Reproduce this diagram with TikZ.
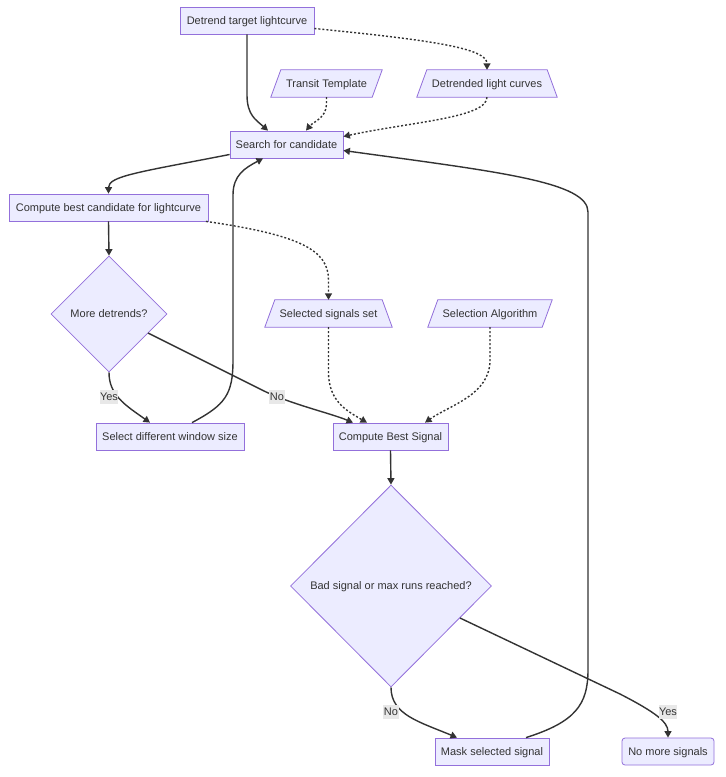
\documentclass[tikz,border=0pt]{standalone}
\usepackage{fontspec}
\setmainfont{Liberation Sans}
\usetikzlibrary{shapes.geometric,arrows.meta,backgrounds}
\definecolor{nfill}{HTML}{ECECFF}
\definecolor{nline}{HTML}{9370DB}
\definecolor{ntext}{HTML}{333333}
\definecolor{eline}{HTML}{333333}
\definecolor{lblbg}{HTML}{E8E8E8}
\tikzset{
  base/.style={font=\fontsize{11pt}{13pt}\selectfont, text=ntext, inner sep=0pt, minimum height=27pt, text height=9.9pt, text depth=2.3pt},
  box/.style={base, rectangle, draw=nline, fill=nfill, line width=0.8pt},
  rbox/.style={box, rounded corners=3pt},
  plain/.style={base, rectangle},
  dia/.style={font=\fontsize{11pt}{13pt}\selectfont, text=ntext, text height=9.9pt, text depth=2.3pt, diamond, aspect=1, draw=nline, fill=nfill, line width=0.8pt, inner sep=0pt},
  shapeline/.style={draw=nline, fill=nfill, line width=0.8pt},
  edge/.style={draw=eline, line width=1.4pt, -{Triangle[length=6.5pt,width=7pt]}},
  dotedge/.style={edge, dash pattern=on 2pt off 2pt},
  lbl/.style={font=\fontsize{11pt}{13pt}\selectfont, text=ntext, text height=9.9pt, text depth=2.3pt, fill=lblbg, inner xsep=0.5pt, inner ysep=0.5pt}
}
\begin{document}
\begin{tikzpicture}[x=1pt,y=-1pt]
\useasboundingbox (0,0) rectangle (726,777);
% nodes
\node[box, minimum width=134pt] (det) at (247,20.5) {Detrend target lightcurve};
\node[plain, minimum width=101pt] (tt) at (326.5,83.5) {Transit Template};
\node[plain, minimum width=130pt] (dlc) at (487,83.5) {Detrended light curves};
\node[box, minimum width=113pt] (search) at (286.5,144.5) {Search for candidate};
\node[box, minimum width=199pt] (cbc) at (108.5,207.5) {Compute best candidate for lightcurve};
\node[dia, minimum width=116pt, minimum height=116pt] (md) at (109,314) {More detrends?};
\node[plain, minimum width=117pt] (sss) at (328.5,313.5) {Selected signals set};
\node[plain, minimum width=114pt] (sa) at (490,313.5) {Selection Algorithm};
\node[box, minimum width=148pt] (sdw) at (170,436.5) {Select different window size};
\node[box, minimum width=115pt] (cbs) at (390.5,436.5) {Compute Best Signal};
\node[dia, minimum width=201pt, minimum height=202pt] (bad) at (391,586) {Bad signal or max runs reached?};
\node[box, minimum width=114pt] (msk) at (492,751.5) {Mask selected signal};
\node[rbox, minimum width=92pt] (nms) at (668,751.5) {No more signals};
% white page and slanted shapes behind their texts
\begin{scope}[on background layer]
\fill[white] (0,0) rectangle (726,777);
\path[shapeline] ([xshift=-5pt]tt.south west) -- ([xshift=-5pt]tt.south east) -- ([xshift=5pt]tt.north east) -- ([xshift=5pt]tt.north west) -- cycle;
\path[shapeline] ([xshift=-5pt]sa.south west) -- ([xshift=-5pt]sa.south east) -- ([xshift=5pt]sa.north east) -- ([xshift=5pt]sa.north west) -- cycle;
\path[shapeline] ([xshift=-5pt]dlc.south west) -- ([xshift=5pt]dlc.south east) -- ([xshift=-5pt]dlc.north east) -- ([xshift=5pt]dlc.north west) -- cycle;
\path[shapeline] ([xshift=-5pt]sss.south west) -- ([xshift=5pt]sss.south east) -- ([xshift=-5pt]sss.north east) -- ([xshift=5pt]sss.north west) -- cycle;
\end{scope}
% edges
\draw[edge] (det.south) -- (247,95) .. controls (247,115) and (256,120) .. ([xshift=-18.5pt]search.north);
\draw[dotedge] ([yshift=-8pt]det.east) .. controls (430,40) and (487,48) .. (dlc.north);
\draw[dotedge] (tt.south) -- (326.5,104) .. controls (326.5,118) and (313,122) .. ([xshift=19.5pt]search.north);
\draw[dotedge] (dlc.south) .. controls (487,118) and (410,122) .. ([yshift=8pt]search.east);
\draw[edge] ([yshift=-10pt]search.west) .. controls (140,172) and (108.5,176) .. (cbc.north);
\draw[edge] ([xshift=22pt]sdw.north) .. controls (225,405) and (233,395) .. (233,360) -- (233,195) .. controls (233,175) and (245,168) .. ([xshift=-23.5pt]search.south);
\draw[edge] ([xshift=34pt]msk.north) .. controls (575,722) and (588,705) .. (588,670) -- (588,212) .. controls (588,182) and (500,172) .. ([yshift=-6pt]search.east);
\draw[edge] (cbc.south) -- (md.north);
\draw[dotedge] ([xshift=97.5pt]cbc.south) .. controls (300,235) and (328.5,250) .. (328.5,280) -- (sss.north);
\draw[edge] (md.south) .. controls (109,395) and (125,405) .. ([xshift=-20pt]sdw.north);
\draw[edge] (148,333) -- (262,390) .. controls (290,404) and (330,413) .. ([xshift=-37.5pt]cbs.north);
\draw[dotedge] (sss.south) -- (328.5,372) .. controls (328.5,400) and (345,410) .. ([xshift=-23.5pt]cbs.north);
\draw[dotedge] (sa.south) -- (490,360) .. controls (490,395) and (450,405) .. ([xshift=34.5pt]cbs.north);
\draw[edge] (cbs.south) -- (bad.north);
\draw[edge] (bad.south) .. controls (391,715) and (420,722) .. ([xshift=-35pt]msk.north);
\draw[edge] (460,618) -- (620,694) .. controls (655,712) and (668,722) .. (nms.north);
% edge labels
\node[lbl] (l1) at (109,397) {Yes};
\node[lbl] (l2) at (277,397) {No};
\node[lbl] (l3) at (391,712) {No};
\node[lbl] (l4) at (668,712) {Yes};
\end{tikzpicture}
\end{document}
